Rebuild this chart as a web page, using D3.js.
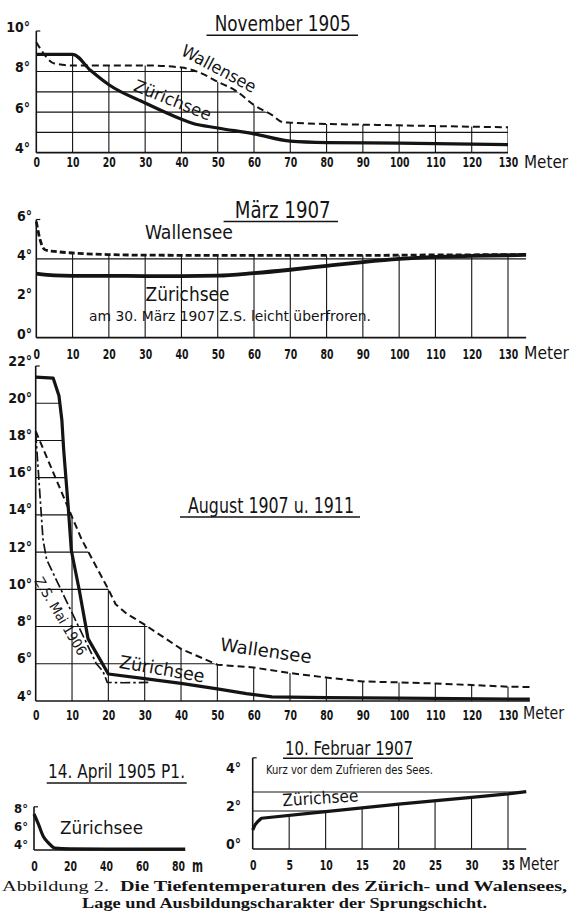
<!DOCTYPE html>
<html><head><meta charset="utf-8">
<script src="https://cdn.jsdelivr.net/npm/d3@7"></script>
<style>
html,body{margin:0;padding:0;background:#fff;}
svg{display:block;}
.hand{font-family:"Liberation Sans Narrow","DejaVu Sans Condensed","Roboto Condensed","DejaVu Sans",sans-serif;font-stretch:condensed;}
.serif{font-family:"Liberation Serif","DejaVu Serif",serif;}
</style></head><body>
<svg id="c" width="570" height="912" viewBox="0 0 570 912"></svg>
<script>
// ---------- tick labels / grid values ----------
const depthTicks130 = [0,10,20,30,40,50,60,70,80,90,100,110,120,130];
const novYTicks = [4,6,8,10];
const marYTicks = [0,2,4,6];
const augYTicks = [4,6,8,10,12,14,16,18,20,22];
const aprXTicks = [0,20,40,60,80];
const aprYTicks = [4,6,8];
const febXTicks = [0,5,10,15,20,25,30,35];
const febYTicks = [0,2,4];
const novHGrid = [5,6,7,8];
const marHGrid = [4];
const augHGrid = [6,8,10,12,14,16,18,20];
const febHGrid = [2,3];

// ---------- series (depth in m, temperature in °C) ----------
const novZurichDepth = [0,10,15,20,30,40,43,50,60,70,80,100,130];
const novZurichTemp  = [8.85,8.85,8.05,7.35,6.45,5.65,5.45,5.22,4.93,4.57,4.5,4.47,4.4];
const novWallenDepth = [0,5,10,20,30,40,45,50,55,60,65,68,70,100,130];
const novWallenTemp  = [9.45,8.4,8.3,8.3,8.3,8.2,7.95,7.5,7.05,6.35,5.85,5.5,5.48,5.35,5.25];

const marZurichDepth = [0,5,10,20,30,40,50,60,70,80,90,100,110,120,135];
const marZurichTemp  = [3.25,3.16,3.14,3.14,3.13,3.13,3.15,3.28,3.45,3.65,3.84,4.0,4.1,4.15,4.2];
const marWallenDepth = [0,1,2.5,5,10,20,30,50,70,90,110,135];
const marWallenTemp  = [5.9,5.0,4.45,4.38,4.3,4.22,4.19,4.18,4.18,4.18,4.2,4.22];

const augZurichDepth = [0,4.8,6.4,7.2,7.7,9.0,9.8,12,14.4,20,30,40,50,58,65,80,100,136];
const augZurichTemp  = [21.4,21.35,20.4,19.1,17.5,14.3,12.1,9.95,7.35,5.45,5.2,4.95,4.65,4.4,4.22,4.18,4.15,4.1];
const augWallenDepth = [0,12.6,20,22,25,30,40,50,60,70,80,90,100,110,120,130,136];
const augWallenTemp  = [18.5,12.7,10.0,9.2,8.7,8.1,6.8,5.95,5.8,5.5,5.26,5.05,5.0,4.94,4.86,4.77,4.75];
const augMaiDepth = [0,2,3,16.7,18.5,19.7,24,31];
const augMaiTemp  = [18.4,12.7,11.6,6.0,5.6,5.0,4.98,5.0];

const aprZurichDepth = [0,2.4,5.2,8,11.7,20,40,60,84];
const aprZurichTemp  = [8.0,6.9,5.5,4.8,4.2,4.12,4.1,4.1,4.1];

const febZurichDepth = [0,0.3,0.7,1.2,10,20,30,35,37.5];
const febZurichTemp  = [1.0,1.26,1.45,1.62,1.97,2.36,2.72,2.9,3.02];

// ---------- drawing ----------
const INK = '#141414';
const svg = d3.select('#c');
svg.append('rect').attr('width',570).attr('height',912).attr('fill','#fff');
const defs = svg.append('defs');
const zip = (ds, ts) => ds.map((d,i)=>[d, ts[i]]);

const STY = {
  zurich: {w:3.2, dash:null},
  zurichThick: {w:3.8, dash:null},
  wallen: {w:2, dash:'7,4'},
  wallenThick: {w:2.8, dash:'6,3'},
  mai: {w:1.7, dash:'10,3,2.5,3'}
};

function panel(p){
  const g = svg.append('g');
  const x = d3.scaleLinear().domain(p.xDom).range(p.xRange);
  const y = d3.scaleLinear().domain(p.yDom).range(p.yRange);
  const base = p.yDom[0];
  const curve = p.curve || d3.curveLinear;
  const line = d3.line().x(d=>x(d[0])).y(d=>y(d[1])).curve(curve);
  const areaBelow = d3.area().x(d=>x(d[0])).y0(y(base)).y1(d=>y(d[1])).curve(curve);
  const areaAbove = d3.area().x(d=>x(d[0])).y0(y(p.yTop)-20).y1(d=>y(d[1])).curve(curve);

  const idB = 'cb'+p.id, idA = 'ca'+p.id;
  const cb = defs.append('clipPath').attr('id', idB);
  p.series.filter(s=>s.env).forEach(s=>cb.append('path').attr('d', areaBelow(s.data)));
  const ca = defs.append('clipPath').attr('id', idA);
  p.series.filter(s=>s.env).forEach(s=>ca.append('path').attr('d', areaAbove(s.data)));

  // vertical grid
  g.append('g').attr('clip-path',`url(#${idB})`).selectAll('line').data(p.vGrid).join('line')
    .attr('x1',d=>x(d)).attr('x2',d=>x(d)).attr('y1',y(base)).attr('y2',y(p.yTop)-20)
    .attr('stroke',INK).attr('stroke-width',1.1);
  // horizontal grid
  g.append('g').attr('clip-path',`url(#${p.hAbove?idA:idB})`).selectAll('line').data(p.hGrid).join('line')
    .attr('x1',x(0)).attr('x2',x(p.xEnd)).attr('y1',d=>y(d)).attr('y2',d=>y(d))
    .attr('stroke',INK).attr('stroke-width',1.1);

  // axes lines
  g.append('line').attr('x1',x(0)).attr('x2',x(p.xEnd)).attr('y1',y(base)).attr('y2',y(base))
    .attr('stroke',INK).attr('stroke-width',1.7);
  g.append('line').attr('x1',x(0)).attr('x2',x(0)).attr('y1',y(base)).attr('y2',y(p.yTop))
    .attr('stroke',INK).attr('stroke-width',1.6);
  g.append('line').attr('x1',x(0)).attr('x2',x(0)+4).attr('y1',y(p.yTop)).attr('y2',y(p.yTop))
    .attr('stroke',INK).attr('stroke-width',1.2);

  // series
  p.series.forEach(s=>{
    const st = STY[s.style];
    g.append('path').attr('d', line(s.data)).attr('fill','none').attr('stroke',INK)
      .attr('stroke-width',st.w).attr('stroke-linejoin','round')
      .attr('stroke-dasharray',st.dash);
  });

  // x labels
  const ax = g.append('g').attr('transform',`translate(0,${p.xLabelY})`)
    .call(d3.axisBottom(x).tickValues(p.xTicks).tickSize(0).tickPadding(0).tickFormat(d=>d));
  ax.select('.domain').remove();
  ax.attr('font-family',null).attr('font-size',null);
  ax.selectAll('text').attr('y',0).attr('dy','0.36em').attr('class','hand')
    .attr('textLength',d=>String(d).length*6.5).attr('lengthAdjust','spacingAndGlyphs')
    .style('font-size',p.xfs+'px').style('font-weight','bold').attr('fill',INK);
  // y labels
  const ay = g.append('g').attr('transform',`translate(${p.yLabelX},${-p.yLabelUp})`)
    .call(d3.axisLeft(y).tickValues(p.yTicks).tickSize(0).tickPadding(0).tickFormat(d=>d+'°'));
  ay.select('.domain').remove();
  ay.attr('font-family',null).attr('font-size',null);
  ay.selectAll('text').attr('x',0).attr('dy','0.36em').attr('class','hand')
    .style('font-size',p.yfs+'px').style('font-weight','bold').attr('fill',INK);
  return {x,y};
}

function label(txt, x, y, o){
  o = o||{};
  const t = svg.append('text').attr('x',x).attr('y',y).text(txt)
    .attr('class', o.cls||'hand').attr('fill',INK)
    .attr('text-anchor', o.anchor||'middle').attr('dominant-baseline','central')
    .style('font-size',(o.fs||16)+'px');
  if (o.bold) t.style('font-weight','bold');
  if (o.len) t.attr('textLength',o.len).attr('lengthAdjust','spacingAndGlyphs');
  if (o.rot) t.attr('transform',`rotate(${o.rot},${x},${y})`);
  return t;
}
function underline(x1,x2,y){
  svg.append('line').attr('x1',x1).attr('x2',x2).attr('y1',y).attr('y2',y).attr('stroke',INK).attr('stroke-width',1.5);
}

// ---- November 1905 ----
panel({id:'nov', xDom:[0,130], xRange:[36.3,508], yDom:[4,10], yRange:[152.7,31], yTop:10, xEnd:130,
  curve:d3.curveMonotoneX,
  series:[{data:zip(novWallenDepth,novWallenTemp),style:'wallen',env:true},
          {data:zip(novZurichDepth,novZurichTemp),style:'zurich',env:true}],
  vGrid:depthTicks130.slice(1), hGrid:novHGrid, xTicks:depthTicks130, yTicks:novYTicks,
  xLabelY:162, xfs:13.5, yLabelX:30, yLabelUp:5, yfs:14});
label('Meter',524,161,{anchor:'start',fs:18,len:44});
label('November 1905',282.7,23.8,{fs:21,len:136});
underline(206.5,358,35.3);
label('Wallensee',219,68.5,{fs:17,len:82,rot:28});
label('Zürichsee',172.7,100,{fs:17,len:82,rot:22});

// ---- März 1907 ----
panel({id:'mar', xDom:[0,130], xRange:[36.3,508], yDom:[0,6], yRange:[337.7,219.5], yTop:6, xEnd:135,
  curve:d3.curveMonotoneX,
  series:[{data:zip(marZurichDepth,marZurichTemp),style:'zurichThick',env:true},
          {data:zip(marWallenDepth,marWallenTemp),style:'wallenThick',env:true}],
  vGrid:depthTicks130.slice(1), hGrid:marHGrid, xTicks:depthTicks130, yTicks:marYTicks,
  xLabelY:354, xfs:13.5, yLabelX:32, yLabelUp:4.5, yfs:14});
label('Meter',524,352,{anchor:'start',fs:18,len:45});
label('März 1907',282.7,209.5,{fs:23,len:96});
underline(223.6,338,221.4);
label('Wallensee',145,232,{anchor:'start',fs:20,len:88});
label('Zürichsee',145.5,293.5,{anchor:'start',fs:20,len:84});
label('am 30. März 1907 Z.S. leicht überfroren.',89,316,{anchor:'start',fs:14,len:282});

// ---- August 1907 u. 1911 ----
panel({id:'aug', xDom:[0,130], xRange:[35.7,508], yDom:[4,22], yRange:[701,366], yTop:22, xEnd:136,
  series:[{data:zip(augMaiDepth,augMaiTemp),style:'mai',env:false},
          {data:zip(augWallenDepth,augWallenTemp),style:'wallen',env:true},
          {data:zip(augZurichDepth,augZurichTemp),style:'zurich',env:true}],
  vGrid:depthTicks130.slice(1), hGrid:augHGrid, xTicks:depthTicks130, yTicks:augYTicks,
  xLabelY:715, xfs:13.5, yLabelX:32, yLabelUp:6, yfs:14});
label('Meter',523,712,{anchor:'start',fs:18,len:41});
label('August 1907 u. 1911',271,505,{fs:22,len:166});
underline(180,360,517);
label('Wallensee',266,650.5,{fs:18,len:92,rot:7.9});
label('Zürichsee',162,668.7,{fs:18,len:86,rot:9.9});
label('Z.S. Mai 1906',60.7,616,{fs:14,len:88,rot:59.4});

// ---- 14. April 1905 P1. ----
panel({id:'apr', xDom:[0,80], xRange:[34,178], yDom:[4,8], yRange:[850,814], yTop:8.8, xEnd:84,
  curve:d3.curveMonotoneX,
  series:[{data:zip(aprZurichDepth,aprZurichTemp),style:'zurich',env:true}],
  vGrid:[], hGrid:[], xTicks:aprXTicks, yTicks:aprYTicks,
  xLabelY:866, xfs:13.5, yLabelX:28, yLabelUp:6.5, yfs:13});
label('m',192,866,{anchor:'start',fs:17,bold:true,len:11});
label('14. April 1905 P1.',116.5,771,{fs:20,len:137});
underline(46.7,186.7,783);
label('Zürichsee',60,827,{anchor:'start',fs:18,len:83});

// ---- 10. Februar 1907 ----
panel({id:'feb', xDom:[0,35], xRange:[252.7,508], yDom:[0,4], yRange:[849,773], yTop:4.8, xEnd:37.5,
  series:[{data:zip(febZurichDepth,febZurichTemp),style:'zurich',env:true}],
  vGrid:febXTicks.slice(1), hGrid:febHGrid, hAbove:true, xTicks:febXTicks, yTicks:febYTicks,
  xLabelY:865, xfs:13.5, yLabelX:241, yLabelUp:6, yfs:14});
label('Meter',519,863,{anchor:'start',fs:18,len:40});
label('10. Februar 1907',349,748.3,{fs:19,len:128});
underline(283,413,758.3);
label('Kurz vor dem Zufrieren des Sees.',266,769.5,{anchor:'start',fs:13,len:167});
label('Zürichsee',320.3,797.8,{fs:17,len:76,rot:-3.7});

// ---- caption ----
label('Abbildung 2.',2,886,{anchor:'start',cls:'serif',fs:15,len:107});
label('Die Tiefentemperaturen des Zürich- und Walensees,',120,886,{anchor:'start',cls:'serif',fs:15,bold:true,len:447});
label('Lage und Ausbildungscharakter der Sprungschicht.',284.5,902.5,{cls:'serif',fs:15,bold:true,len:405});
</script>
</body></html>
